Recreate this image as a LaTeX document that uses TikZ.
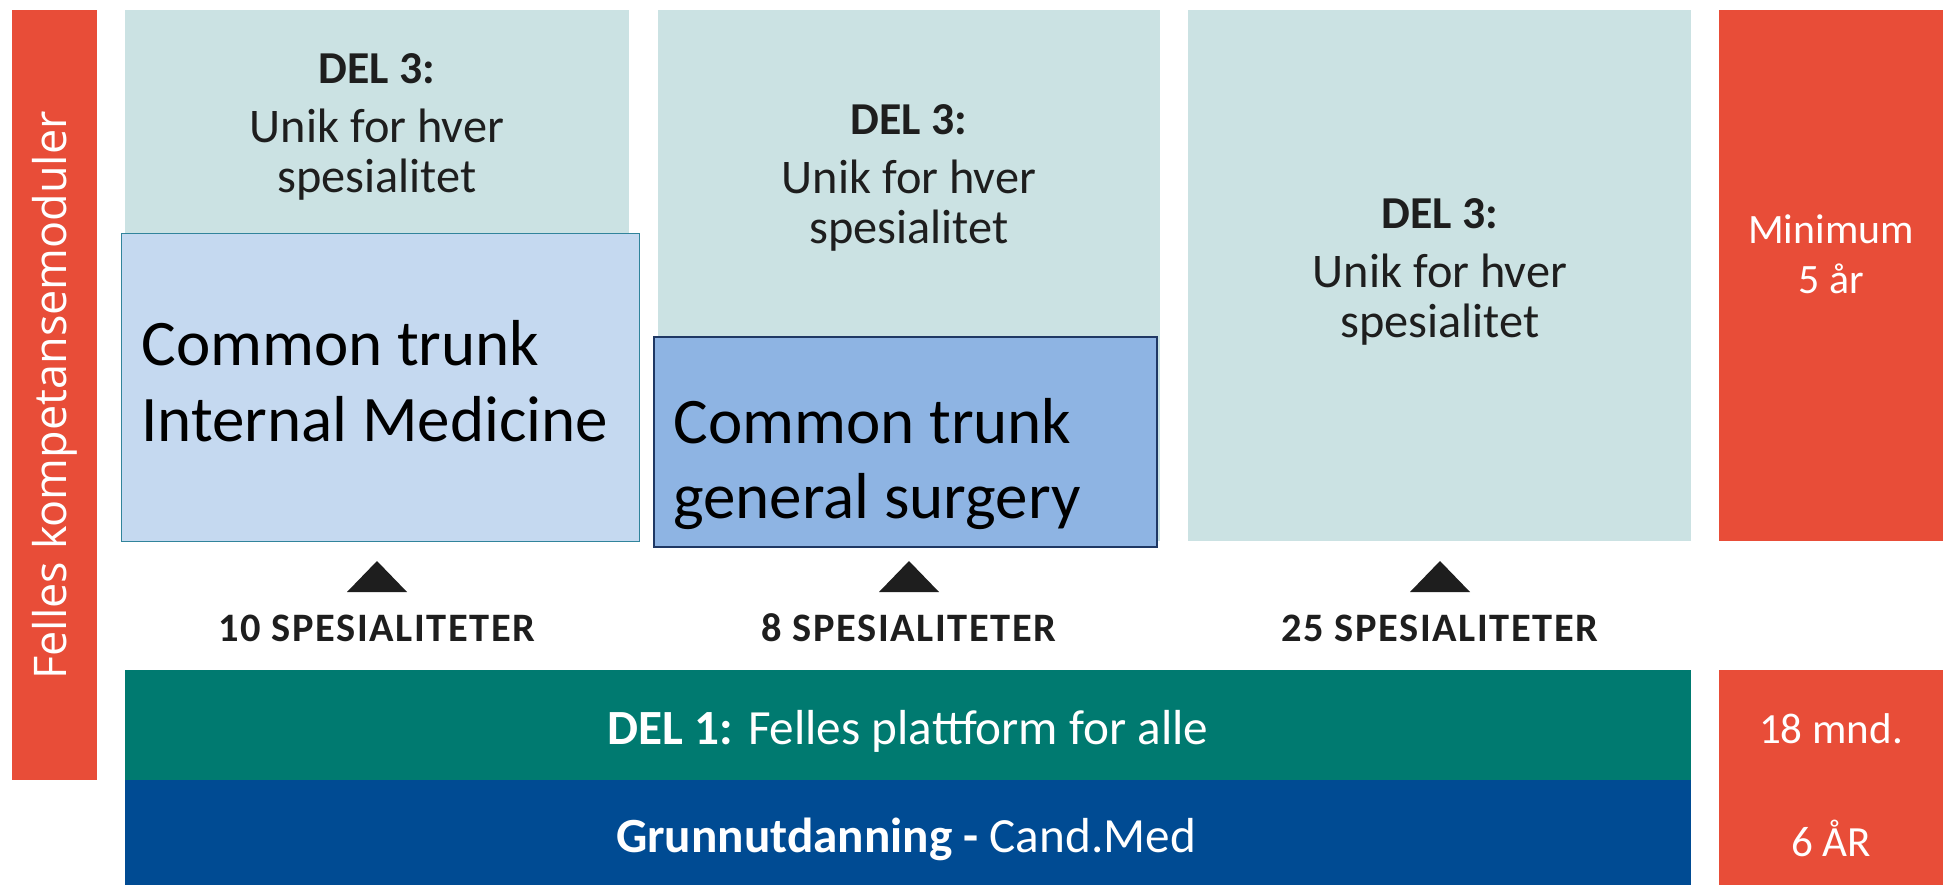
\documentclass[tikz,border=0pt]{standalone}
\usepackage{fontspec}
\setmainfont{Carlito}
\newfontfamily\vertfont{Open Sans}
\usetikzlibrary{positioning}
\definecolor{feltred}{RGB}{232,77,56}
\definecolor{del3bg}{RGB}{203,226,227}
\definecolor{imfill}{RGB}{197,217,240}
\definecolor{imline}{RGB}{49,132,155}
\definecolor{gsfill}{RGB}{142,180,227}
\definecolor{gsline}{RGB}{31,56,100}
\definecolor{del1bg}{RGB}{0,122,112}
\definecolor{grunnbg}{RGB}{0,75,147}
\definecolor{txtdark}{RGB}{30,30,30}

\begin{document}
\begin{tikzpicture}[x=0.02cm,y=-0.02cm,
	blokk/.style={rectangle,inner sep=0pt,anchor=north west},
	del3txt/.style={align=center,text=txtdark,inner sep=0pt,font=\fontsize{27.5}{28.5}\selectfont},
	cttxt/.style={align=left,text=black,inner sep=0pt,anchor=west,font=\fontsize{37}{43}\selectfont},
	spestxt/.style={text=txtdark,inner sep=0pt,font=\bfseries\addfontfeatures{LetterSpace=4}\fontsize{23}{27}\selectfont},
	hvittxt/.style={text=white,inner sep=0pt,font=\fontsize{28}{33}\selectfont}]
					
	\fill[white] (0,0) rectangle (1952,885);
	\useasboundingbox (0,0) rectangle (1952,885);

	% venstre kolonne
	\node[blokk,fill=feltred,minimum width=1.70cm,minimum height=15.40cm] (felles) at (12,10) {};
	\node[rotate=90,text=white,inner sep=0pt,font=\vertfont\fontsize{25.6}{30}\selectfont] (fellestxt) at (felles.center) {Felles kompetansemoduler};

	% del 3
	\node[blokk,fill=del3bg,minimum width=10.08cm,minimum height=10.62cm] (del3a) at (125,10) {};
	\node[blokk,fill=del3bg,minimum width=10.04cm,minimum height=10.62cm] (del3b) at (658,10) {};
	\node[blokk,fill=del3bg,minimum width=10.06cm,minimum height=10.62cm] (del3c) at (1188,10) {};
	\node[blokk,fill=feltred,minimum width=4.48cm,minimum height=10.62cm] (minaar) at (1719,10) {};

	\node[del3txt] (del3atxt) at (377,127) {{\bfseries\fontsize{26}{28}\selectfont DEL 3:}\\[5pt]Unik for hver\\spesialitet};
	\node[del3txt] (del3btxt) at (909,178) {{\bfseries\fontsize{26}{28}\selectfont DEL 3:}\\[5pt]Unik for hver\\spesialitet};
	\node[del3txt] (del3ctxt) at (1440,272) {{\bfseries\fontsize{26}{28}\selectfont DEL 3:}\\[5pt]Unik for hver\\spesialitet};
	\node[hvittxt,align=center,font=\fontsize{23.8}{28.5}\selectfont] (minaartxt) at (1831,254) {Minimum\\5 år};

	% common trunk
	\node[blokk,fill=imfill,draw=imline,line width=0.8pt,minimum width=10.36cm,minimum height=6.16cm] (ctim) at (121,233) {};
	\node[cttxt] (ctimtxt) at (141,381) {Common trunk\\Internal Medicine};
	\node[blokk,fill=gsfill,draw=gsline,line width=1.2pt,minimum width=10.06cm,minimum height=4.20cm] (ctgs) at (653,336) {};
	\node[cttxt] (ctgstxt) at (673,464) {Common trunk\\general surgery};

	% antall spesialiteter
	\foreach \n/\x/\antall in {a/377/10,b/909/8,c/1440/25}{
		\fill[txtdark] (\x-30,592) -- (\x,561) -- (\x+30,592) -- cycle;
		\node[spestxt] (spes\n) at (\x,628) {\antall\ SPESIALITETER};
	}

	% del 1 og grunnutdanning
	\node[blokk,fill=del1bg,minimum width=31.32cm,minimum height=2.20cm] (del1) at (125,670) {};
	\node[blokk,fill=grunnbg,minimum width=31.32cm,minimum height=2.10cm] (grunn) at (125,780) {};
	\node[blokk,fill=feltred,minimum width=4.48cm,minimum height=4.30cm] (tid) at (1719,670) {};
	\node[hvittxt] (del1txt) at (908,731) {\textbf{DEL 1:} Felles plattform for alle};
	\node[hvittxt] (grunntxt) at (906,839) {\textbf{Grunnutdanning -} Cand.Med};
	\node[hvittxt,font=\fontsize{24.5}{28}\selectfont] (mndtxt) at (1831,729) {18 mnd.};
	\node[hvittxt,font=\fontsize{24.5}{28}\selectfont] (aartxt) at (1831,838) {6 ÅR};
\end{tikzpicture}
\end{document}
